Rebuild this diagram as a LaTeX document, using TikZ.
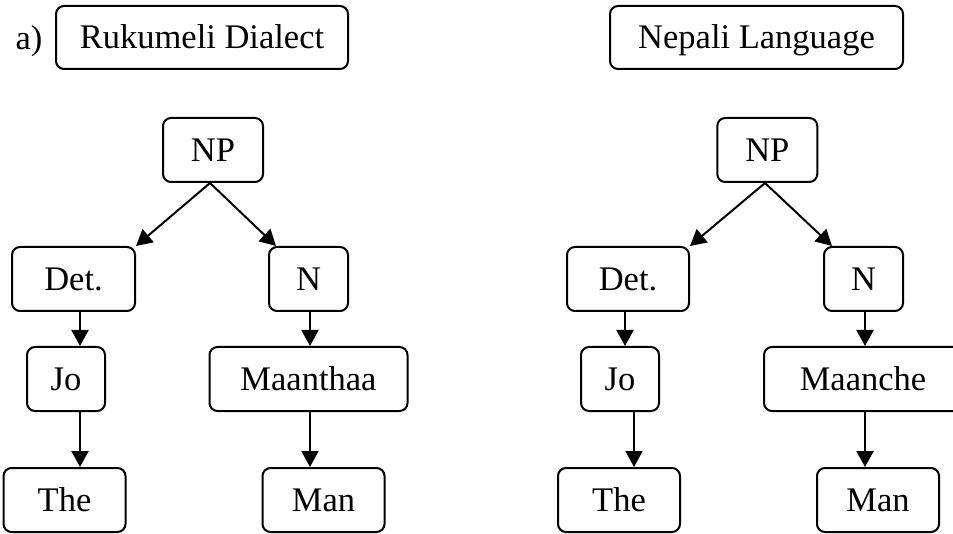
\documentclass[tikz,border=0pt]{standalone}
\usepackage{fontspec}
\setmainfont{Liberation Serif}
\usetikzlibrary{arrows.meta}
\begin{document}
\begin{tikzpicture}[x=1pt,y=-1pt,
  lbl/.style={draw, line width=2pt, rounded corners=8pt, inner sep=0pt,
    font=\fontsize{34.5}{40}\selectfont, text height=23pt, text depth=0pt,
    minimum height=64pt},
  arr/.style={line width=2pt, -{Triangle[length=16pt,width=17pt]}}]
\clip (0,0) rectangle (953,534);
\useasboundingbox (0,0) rectangle (953,534);

% ---- left tree: Rukumeli dialect ----
\node[anchor=base west, font=\fontsize{34.5}{40}\selectfont] (tag) at (12,50) {a)};
\node[lbl, minimum width=292pt, minimum height=63pt] (titleA) at (202,37.5) {Rukumeli Dialect};
\node[lbl, minimum width=100pt] (npA)  at (213,150)   {NP};
\node[lbl, minimum width=123pt] (detA) at (73.5,279)  {Det.};
\node[lbl, minimum width=79pt]  (nA)   at (308.5,279) {N};
\node[lbl, minimum width=78pt]  (joA)  at (66,379)    {Jo};
\node[lbl, minimum width=198pt] (wA)   at (308.5,379) {Maanthaa};
\node[lbl, minimum width=122pt] (theA) at (64.5,500)  {The};
\node[lbl, minimum width=122pt] (manA) at (323.5,500) {Man};

\draw[arr] ([xshift=-3pt]npA.south) -- (detA.north east);
\draw[arr] ([xshift=-3pt]npA.south) -- ([xshift=8pt]nA.north west);
\draw[arr] ([xshift=6.5pt]detA.south) -- ([xshift=6.5pt]detA.south |- joA.north);
\draw[arr] ([xshift=14pt]joA.south) -- ([xshift=14pt]joA.south |- theA.north);
\draw[arr] ([xshift=1.5pt]nA.south) -- ([xshift=1.5pt]nA.south |- wA.north);
\draw[arr] ([xshift=1.5pt]wA.south) -- ([xshift=1.5pt]wA.south |- manA.north);

% ---- right tree: Nepali language ----
\node[lbl, minimum width=293pt, minimum height=63pt] (titleB) at (756.5,37.5) {Nepali Language};
\node[lbl, minimum width=100pt] (npB)  at (767.3,150) {NP};
\node[lbl, minimum width=122pt] (detB) at (628,279)   {Det.};
\node[lbl, minimum width=79pt]  (nB)   at (863.5,279) {N};
\node[lbl, minimum width=78pt]  (joB)  at (620,379)   {Jo};
\node[lbl, minimum width=198pt] (wB)   at (863,379)   {Maanche};
\node[lbl, minimum width=122pt] (theB) at (619,500)   {The};
\node[lbl, minimum width=122pt] (manB) at (878,500)   {Man};

\draw[arr] ([xshift=-2.3pt]npB.south) -- (detB.north east);
\draw[arr] ([xshift=-2.3pt]npB.south) -- ([xshift=9pt]nB.north west);
\draw[arr] ([xshift=-3pt]detB.south) -- ([xshift=-3pt]detB.south |- joB.north);
\draw[arr] ([xshift=14pt]joB.south) -- ([xshift=14pt]joB.south |- theB.north);
\draw[arr] ([xshift=1.5pt]nB.south) -- ([xshift=1.5pt]nB.south |- wB.north);
\draw[arr] ([xshift=2pt]wB.south) -- ([xshift=2pt]wB.south |- manB.north);
\end{tikzpicture}
\end{document}
